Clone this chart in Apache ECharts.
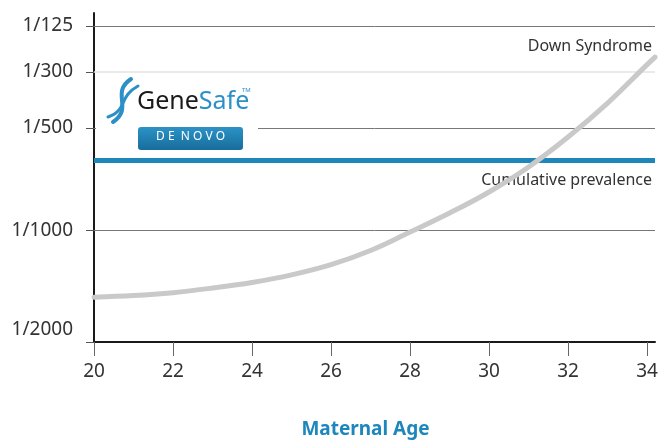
<!DOCTYPE html>
<html>
<head>
<meta charset="utf-8">
<script src="https://cdn.jsdelivr.net/npm/echarts@6/dist/echarts.min.js"></script>
<style>
  html, body { margin: 0; padding: 0; background: #fff; }
  #chart { width: 659px; height: 441px; }
</style>
</head>
<body>
<div id="chart"></div>
<script>
// risk axis is drawn as relative height (0 = bottom, 100 = top)
var yLabels = ['1/2000', '1/1000', '1/500', '1/300', '1/125'];
var yLabelPos = [3.65, 34.0, 65.05, 82.07, 96.05];
var prevalencePos = 55.3;

var xTicks = [20, 22, 24, 26, 28, 30, 32, 34];

// Down Syndrome risk curve
var ages = [20, 21, 22, 23, 24, 25, 26, 27, 28, 29, 30, 31, 32, 33, 34, 34.2];
var riskPos = [13.6, 14.1, 15.0, 16.4, 18.1, 20.4, 23.5, 27.8, 33.4, 39.2, 45.6, 53.2, 62.3, 72.6, 84.3, 86.6];

var font = 'Noto Sans';
var chart = echarts.init(document.getElementById('chart'));

var curveData = ages.map(function (a, i) { return [a, riskPos[i]]; });

var option = {
  animation: false,
  textStyle: { fontFamily: font },
  grid: { left: 94, right: 4, top: 13, bottom: 99, outerBoundsMode: 'none' },
  xAxis: {
    type: 'value',
    min: 20,
    max: 34.2,
    name: 'Maternal Age',
    nameLocation: 'middle',
    nameGap: 78,
    nameTextStyle: {
      color: '#1d87bd', fontSize: 19, fontWeight: 'bold', fontFamily: font,
      padding: [0, 18, 0, 0]
    },
    axisLine: { lineStyle: { color: '#1a1a1a', width: 2 } },
    axisTick: { show: true, length: 14, customValues: xTicks, lineStyle: { color: '#666' } },
    axisLabel: { customValues: xTicks, margin: 20, fontSize: 19, color: '#333', fontFamily: font },
    splitLine: { show: false }
  },
  yAxis: {
    type: 'value',
    min: 0,
    max: 100,
    axisLine: { show: true, lineStyle: { color: '#1a1a1a', width: 2 } },
    axisTick: {
      show: true, length: 8,
      customValues: [0, yLabelPos[1], yLabelPos[2], yLabelPos[3], yLabelPos[4]],
      lineStyle: { color: '#555' }
    },
    axisLabel: {
      customValues: yLabelPos,
      margin: 21,
      fontSize: 19,
      color: '#333',
      fontFamily: font,
      formatter: function (v) {
        var i = yLabelPos.indexOf(v);
        return i >= 0 ? yLabels[i] : '';
      }
    },
    splitLine: { show: false }
  },
  series: [
    {
      // grid lines and the prevalence line
      type: 'line',
      data: [],
      z: 1,
      silent: true,
      markLine: {
        silent: true,
        symbol: 'none',
        animation: false,
        label: { show: false },
        data: [
          { yAxis: yLabelPos[1], lineStyle: { color: '#777', width: 1, type: 'solid' } },
          { yAxis: yLabelPos[2], lineStyle: { color: '#777', width: 1, type: 'solid' } },
          { yAxis: yLabelPos[3], lineStyle: { color: '#e3e3e3', width: 1.5, type: 'solid' } },
          { yAxis: yLabelPos[4], lineStyle: { color: '#777', width: 1, type: 'solid' } },
          {
            yAxis: prevalencePos,
            lineStyle: { color: '#1e86b8', width: 5, type: 'solid' },
            label: {
              show: true,
              position: 'insideEndBottom',
              formatter: 'Cumulative prevalence',
              color: '#333',
              fontSize: 16,
              fontFamily: font,
              distance: [3, 12]
            }
          }
        ]
      }
    },
    {
      name: 'Down Syndrome',
      type: 'line',
      z: 10,
      smooth: 0.4,
      symbol: 'none',
      data: curveData,
      lineStyle: { color: '#c9c9c9', width: 5, cap: 'round' }
    }
  ],
  graphic: [
    {
      type: 'text', right: 7, top: 38, z: 10,
      style: { text: 'Down Syndrome', fill: '#333', font: '16px "Noto Sans"', textAlign: 'right' }
    },
    // logo box covering the grid line
    { type: 'rect', z: 50, shape: { x: 96, y: 76, width: 162, height: 79 }, style: { fill: '#fff' } },
    {
      type: 'bezierCurve', z: 51,
      shape: { x1: 131, y1: 79, x2: 113, y2: 122, cpx1: 110, cpy1: 93, cpx2: 134, cpy2: 108 },
      style: { stroke: '#2b90c8', lineWidth: 4, fill: null, lineCap: 'round' }
    },
    {
      type: 'bezierCurve', z: 51,
      shape: { x1: 138, y1: 86, x2: 108, y2: 117, cpx1: 118, cpy1: 97, cpx2: 128, cpy2: 110 },
      style: { stroke: '#2b90c8', lineWidth: 3, fill: null, lineCap: 'round' }
    },
    {
      type: 'text', z: 51, left: 137, top: 89,
      style: {
        rich: {
          g: { fill: '#1a1a1a', fontSize: 25, fontFamily: font },
          s: { fill: '#2b90c8', fontSize: 25, fontFamily: font }
        },
        text: '{g|Gene}{s|Safe}'
      }
    },
    {
      type: 'text', z: 51, left: 242, top: 87,
      style: { text: 'TM', fill: '#2b90c8', font: '6px "Noto Sans"' }
    },
    {
      type: 'rect', z: 51,
      shape: { x: 138, y: 127, width: 105, height: 23, r: 3 },
      style: {
        fill: new echarts.graphic.LinearGradient(0, 0, 0, 1, [
          { offset: 0, color: '#2c92c6' },
          { offset: 1, color: '#176d9c' }
        ])
      }
    },
    {
      type: 'text', z: 52, left: 156, top: 131,
      style: { text: 'D E  N O V O', fill: '#fff', font: '12px "Noto Sans"' }
    }
  ]
};

chart.setOption(option);
</script>
</body>
</html>
